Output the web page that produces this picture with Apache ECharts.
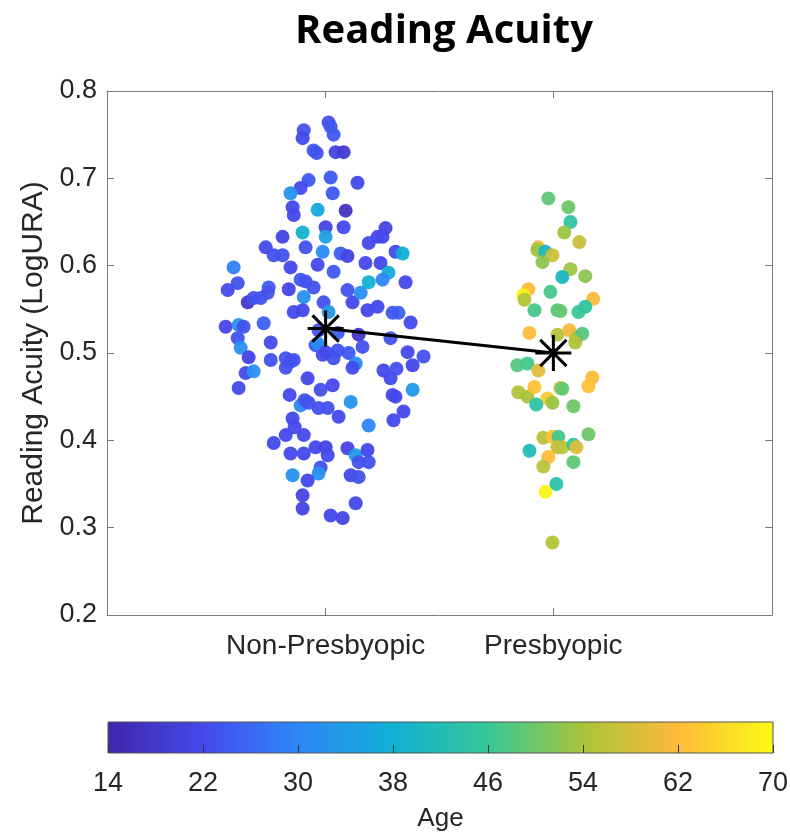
<!DOCTYPE html>
<html>
<head>
<meta charset="utf-8">
<script src="https://cdn.jsdelivr.net/npm/echarts@6/dist/echarts.min.js"></script>
<style>
html,body{margin:0;padding:0;background:#fff;}
#chart{width:790px;height:832px;}
</style>
</head>
<body>
<div id="chart"></div>
<script>
// ---- data ----
const categories = ['Non-Presbyopic', 'Presbyopic'];
const categoryPos = [1, 2];

const npX = [1.013,1.022,1.035,0.904,0.899,0.947,0.961,1.044,1.079,1.022,0.925,0.890,0.846,1.031,1.140,0.855,0.860,0.965,1.088,0.899,1.000,1.000,1.079,0.737,0.811,0.912,0.987,1.066,1.096,0.772,0.811,0.846,0.965,1.035,0.596,0.614,0.570,0.750,0.746,0.838,0.890,0.912,0.947,0.904,0.658,0.684,0.715,0.991,1.096,1.118,1.154,1.189,1.175,1.241,1.276,1.189,1.228,1.263,1.307,1.013,0.860,0.899,0.561,0.618,0.640,0.728,1.053,1.145,0.614,0.759,0.956,1.162,1.285,1.320,1.294,1.184,1.228,1.250,1.338,1.250,1.351,1.373,1.360,1.430,0.627,0.662,0.649,0.684,0.618,0.759,0.825,0.846,0.825,0.860,0.921,0.842,0.890,0.908,0.925,0.978,1.031,0.969,1.009,1.110,1.057,0.855,0.864,0.825,0.904,0.772,0.846,0.904,0.956,1.000,1.009,0.978,0.969,0.855,0.921,0.899,0.899,1.022,1.075,1.132,1.096,1.132,1.184,1.189,1.145,1.110,1.145,1.189,1.101,1.132,1.118,1.035,1.053,0.987,1.254,1.285,1.311,1.294,1.298,1.382,1.382,1.307,1.342,0.969,0.965,1.000];
const npY = [0.764,0.759,0.750,0.755,0.746,0.732,0.729,0.730,0.730,0.701,0.698,0.689,0.683,0.683,0.695,0.667,0.658,0.664,0.663,0.638,0.644,0.633,0.644,0.621,0.633,0.621,0.616,0.614,0.611,0.612,0.612,0.598,0.601,0.593,0.598,0.580,0.572,0.575,0.569,0.573,0.584,0.582,0.575,0.564,0.558,0.563,0.563,0.558,0.572,0.558,0.569,0.581,0.603,0.603,0.592,0.626,0.633,0.643,0.616,0.547,0.547,0.549,0.530,0.532,0.530,0.534,0.523,0.521,0.517,0.512,0.509,0.507,0.517,0.546,0.546,0.549,0.553,0.633,0.614,0.584,0.581,0.535,0.501,0.496,0.506,0.495,0.477,0.479,0.460,0.492,0.494,0.490,0.483,0.492,0.471,0.452,0.440,0.446,0.443,0.458,0.463,0.437,0.437,0.444,0.427,0.425,0.415,0.406,0.406,0.397,0.385,0.385,0.392,0.392,0.383,0.369,0.362,0.360,0.354,0.337,0.322,0.314,0.311,0.328,0.391,0.383,0.389,0.375,0.375,0.360,0.358,0.417,0.500,0.488,0.483,0.494,0.503,0.498,0.480,0.471,0.482,0.452,0.423,0.486,0.458,0.450,0.433,0.526,0.511,0.501];
const npAge = [23,24,24,23,22,24,23,21,19,24,24,22,32,24,22,22,22,36,17,39,21,35,22,22,21,23,31,25,21,23,23,22,22,24,29,23,22,24,23,21,24,23,23,32,18,23,23,23,23,22,32,38,22,22,37,22,22,21,22,33,22,22,21,32,23,25,25,18,23,22,23,23,23,25,24,22,22,22,38,30,22,22,22,23,32,21,22,32,22,23,23,23,23,23,22,22,31,23,23,23,22,23,23,32,22,22,22,22,22,22,22,22,22,21,22,23,32,32,22,21,21,22,21,22,21,34,22,23,23,22,23,30,24,31,22,23,23,22,22,22,23,22,22,22,33,22,22,23,31,22];

const pX = [1.978,2.066,2.075,2.048,2.114,1.934,1.930,1.965,1.996,1.952,2.075,2.039,2.140,1.987,1.890,1.868,1.873,2.175,1.917,2.018,2.031,2.110,2.140,1.895,2.018,2.070,2.101,2.127,2.096,1.842,1.886,1.934,2.171,2.154,1.846,1.886,1.917,2.031,2.039,1.974,1.996,1.925,2.088,2.154,1.956,1.996,2.022,2.018,2.039,2.088,2.101,1.895,1.978,1.956,2.088,2.013,1.965,1.996];
const pY = [0.677,0.667,0.650,0.638,0.627,0.621,0.618,0.616,0.612,0.604,0.596,0.587,0.588,0.570,0.573,0.566,0.561,0.562,0.549,0.549,0.548,0.547,0.553,0.523,0.521,0.526,0.517,0.522,0.512,0.486,0.488,0.480,0.472,0.462,0.455,0.450,0.461,0.460,0.459,0.448,0.443,0.441,0.439,0.407,0.403,0.404,0.404,0.392,0.392,0.395,0.392,0.388,0.381,0.370,0.375,0.350,0.341,0.283];
const pAge = [49,50,45,53,57,60,53,40,58,52,53,40,52,47,62,69,55,62,47,49,49,46,45,62,55,61,55,48,55,48,47,59,62,63,55,54,63,57,49,64,53,44,50,50,55,63,47,57,56,45,59,42,62,56,49,44,69,55];

const meanX = [1, 2];
const meanY = [0.528, 0.500];

const ageMin = 14, ageMax = 70, ageStep = 8;
const yMin = 0.2, yMax = 0.8, yStep = 0.1;

// ---- style ----
const parula = ['#3E26A8','#4549EC','#2E87F7','#10B0D5','#37C897','#A9C43A','#FDBA3A','#F9FB15'];
const axisGray = '#7a7a7a';
const textCol = '#262626';
const fontFam = '"Liberation Sans", Arial, Helvetica, sans-serif';

function zip3(a, b, c) { return a.map((v, i) => [v, b[i], c[i]]); }

const chart = echarts.init(document.getElementById('chart'));
const option = {
  animation: false,
  backgroundColor: '#fff',
  title: {
    text: 'Reading Acuity',
    left: 439, top: 7, textAlign: 'center',
    textStyle: { fontFamily: '"Open Sans", sans-serif', fontWeight: 'bold', fontSize: 40, color: '#000' }
  },
  grid: [
    { left: 107, top: 91, width: 665, height: 524, show: false, outerBoundsMode: 'none' },
    { left: 108, top: 722, width: 665, height: 31, show: false, outerBoundsMode: 'none' }
  ],
  visualMap: {
    type: 'continuous', show: false, min: ageMin, max: ageMax, dimension: 2,
    seriesIndex: [0, 1], inRange: { color: parula }
  },
  xAxis: [
    {
      type: 'value', gridIndex: 0, min: 0.04, max: 2.96, position: 'bottom',
      axisLine: { show: true, onZero: false, lineStyle: { color: axisGray, width: 1 } },
      axisTick: { show: true, inside: true, length: 7, customValues: categoryPos, lineStyle: { color: axisGray } },
      axisLabel: {
        show: true, customValues: categoryPos, margin: 17,
        formatter: v => categories[categoryPos.indexOf(Math.round(v))] || '',
        fontSize: 28, color: textCol, fontFamily: fontFam
      },
      splitLine: { show: false }
    },
    {
      type: 'value', gridIndex: 0, min: 0.04, max: 2.96, position: 'top',
      axisLine: { show: true, onZero: false, lineStyle: { color: axisGray, width: 1 } },
      axisTick: { show: true, inside: true, length: 7, customValues: categoryPos, lineStyle: { color: axisGray } },
      axisLabel: { show: false },
      splitLine: { show: false }
    },
    {
      type: 'value', gridIndex: 1, min: ageMin, max: ageMax, interval: ageStep, z: 10,
      name: 'Age', nameLocation: 'middle', nameGap: 53,
      nameTextStyle: { fontSize: 26, color: textCol, fontFamily: fontFam },
      axisLine: { show: false },
      axisTick: { show: true, inside: true, length: 8, lineStyle: { color: '#333', width: 1 } },
      axisLabel: { fontSize: 27, color: textCol, fontFamily: fontFam, margin: 17 },
      splitLine: { show: false }
    }
  ],
  yAxis: [
    {
      type: 'value', gridIndex: 0, min: yMin, max: yMax, interval: yStep, position: 'left',
      name: 'Reading Acuity (LogURA)', nameLocation: 'middle', nameGap: 55,
      nameTextStyle: { fontSize: 30, color: textCol, fontFamily: fontFam },
      axisLine: { show: true, onZero: false, lineStyle: { color: axisGray, width: 1 } },
      axisTick: { show: true, inside: true, length: 7, lineStyle: { color: axisGray } },
      axisLabel: { fontSize: 27, color: textCol, fontFamily: fontFam, margin: 10, formatter: v => v.toFixed(1) },
      splitLine: { show: false }
    },
    {
      type: 'value', gridIndex: 0, min: yMin, max: yMax, interval: yStep, position: 'right',
      axisLine: { show: true, onZero: false, lineStyle: { color: axisGray, width: 1 } },
      axisTick: { show: true, inside: true, length: 7, lineStyle: { color: axisGray } },
      axisLabel: { show: false },
      splitLine: { show: false }
    },
    {
      type: 'value', gridIndex: 1, min: 0, max: 1, show: false
    }
  ],
  series: [
    {
      name: 'Non-Presbyopic', type: 'scatter', xAxisIndex: 0, yAxisIndex: 0,
      symbolSize: 14, itemStyle: { opacity: 0.95 },
      data: zip3(npX, npY, npAge), z: 2
    },
    {
      name: 'Presbyopic', type: 'scatter', xAxisIndex: 0, yAxisIndex: 0,
      symbolSize: 14, itemStyle: { opacity: 0.95 },
      data: zip3(pX, pY, pAge), z: 2
    },
    {
      name: 'Mean', type: 'line', xAxisIndex: 0, yAxisIndex: 0,
      data: meanX.map((v, i) => [v, meanY[i]]),
      symbol: 'path://M0,-10L0,10M-10,0L10,0M-7.3,-7.3L7.3,7.3M-7.3,7.3L7.3,-7.3',
      symbolSize: 36,
      lineStyle: { color: '#000', width: 3 },
      itemStyle: { color: '#000', borderColor: '#000', borderWidth: 3 },
      z: 5
    },
    {
      name: 'colorbar', type: 'custom', xAxisIndex: 2, yAxisIndex: 2,
      data: [[ageMin, 0, ageMax, 1]],
      encode: { x: [0, 2], y: [1, 3] },
      renderItem: function (params, api) {
        const p0 = api.coord([api.value(0), api.value(3)]);
        const p1 = api.coord([api.value(2), api.value(1)]);
        const stops = parula.map((c, i) => ({ offset: i / (parula.length - 1), color: c }));
        return {
          type: 'rect',
          shape: { x: p0[0], y: p0[1], width: p1[0] - p0[0], height: p1[1] - p0[1] },
          style: {
            fill: new echarts.graphic.LinearGradient(0, 0, 1, 0, stops),
            stroke: '#555', lineWidth: 1
          }
        };
      },
      z: 1
    }
  ]
};
chart.setOption(option);
</script>
</body>
</html>
